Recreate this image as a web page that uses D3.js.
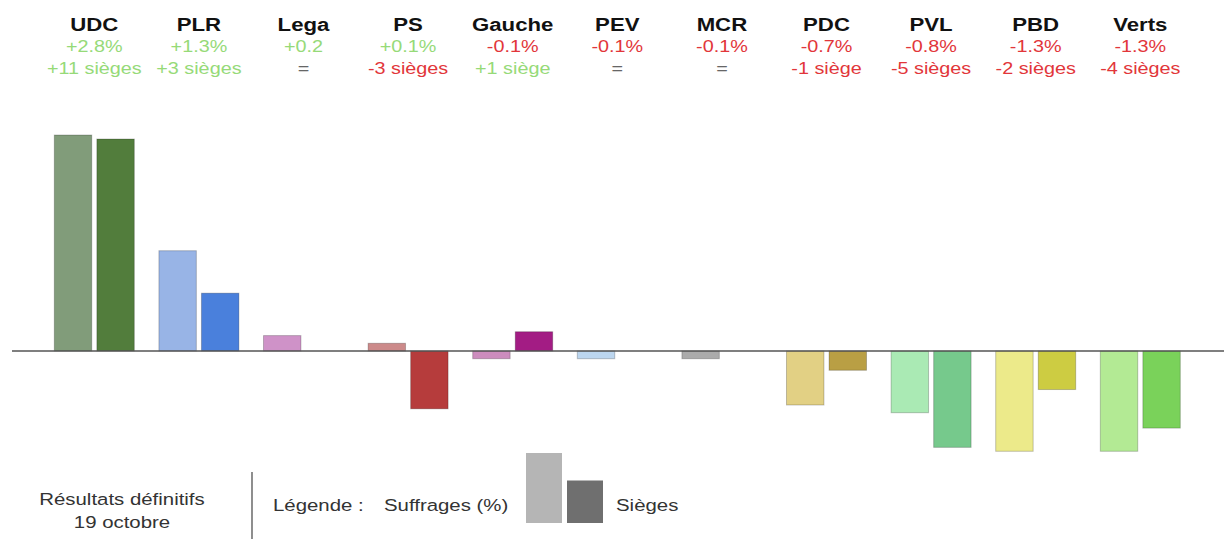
<!DOCTYPE html>
<html><head><meta charset="utf-8">
<script src="https://cdn.jsdelivr.net/npm/d3@7"></script>
<style>body{margin:0;background:#fff;}svg{display:block;font-family:"Liberation Sans",Arial,sans-serif;}</style>
</head><body><svg id="c" width="1224" height="539"></svg>
<script>
const parties = ["UDC","PLR","Lega","PS","Gauche","PEV","MCR","PDC","PVL","PBD","Verts"];
const voteChange = [2.8, 1.3, 0.2, 0.1, -0.1, -0.1, -0.1, -0.7, -0.8, -1.3, -1.3];
const seatChange = [11, 3, 0, -3, 1, 0, 0, -1, -5, -2, -4];
const voteLabels = ["+2.8%","+1.3%","+0.2","+0.1%","-0.1%","-0.1%","-0.1%","-0.7%","-0.8%","-1.3%","-1.3%"];
const seatLabels = ["+11 sièges","+3 sièges","=","-3 sièges","+1 siège","=","=","-1 siège","-5 sièges","-2 sièges","-4 sièges"];
const voteColors = ["#819c7a","#98b4e6","#cf92c8","#cc8a8a","#cc8cbd","#bcd6ef","#ababab","#e2d084","#aaeab4","#ecea8a","#b3ea94"];
const seatColors = ["#527d3c","#4a80dc","#b65fa8","#b63c3c","#a31c84","#7aa6d6","#777777","#b99f44","#76c98c","#cdcc42","#7ad25a"];
const legendLabels = ["Légende :","Suffrages (%)","Sièges"];
const noteLines = ["Résultats définitifs","19 octobre"];

const svg = d3.select("#c");
const SX = 1.2;
const green = "#96da78", red = "#e2363a", gray = "#666";

const x = d3.scaleBand().domain(parties).range([42, 42 + 11*104.6]).padding(0);
const sub = d3.scaleBand().domain(["v","s"]).range([-40, 40]).paddingInner(0.12);
const yV = d3.scaleLinear().domain([0, 2.8]).range([351, 135]);
const yS = d3.scaleLinear().domain([0, 11]).range([351, 139]);
const cx = p => x(p) + x.bandwidth()/2;

function stext(g, tx, ty, str, opts){
  return g.append("text").attr("transform", `translate(${tx},${ty}) scale(${SX},1)`)
    .attr("text-anchor", opts.anchor || "middle")
    .attr("font-size", opts.size).attr("fill", opts.fill)
    .attr("font-weight", opts.weight || "normal").text(str);
}

// bars
const gb = svg.append("g");
parties.forEach((p,i) => {
  const v = voteChange[i];
  gb.append("rect").attr("x", cx(p) + sub("v")).attr("width", sub.bandwidth())
    .attr("y", Math.min(yV(v), yV(0))).attr("height", Math.abs(yV(v) - yV(0)))
    .attr("fill", voteColors[i]).attr("stroke", "rgba(0,0,0,0.22)").attr("stroke-width", 1);
  const s = seatChange[i];
  if (s !== 0) {
    gb.append("rect").attr("x", cx(p) + sub("s")).attr("width", sub.bandwidth())
      .attr("y", Math.min(yS(s), yS(0))).attr("height", Math.abs(yS(s) - yS(0)))
      .attr("fill", seatColors[i]).attr("stroke", "rgba(0,0,0,0.22)").attr("stroke-width", 1);
  }
});
// zero line
svg.append("line").attr("x1", 12).attr("x2", 1224).attr("y1", yV(0)).attr("y2", yV(0))
  .attr("stroke", "#555").attr("stroke-width", 1.5);

// header
const gh = svg.append("g");
parties.forEach((p,i) => {
  const c = cx(p);
  stext(gh, c, 31, p, {size: 18.5, fill: "#111", weight: "bold"});
  stext(gh, c, 52, voteLabels[i], {size: 16.5, fill: voteChange[i] > 0 ? green : red});
  const s = seatChange[i];
  stext(gh, c, 74, seatLabels[i], {size: 16.5, fill: s > 0 ? green : (s < 0 ? red : gray)});
});

// bottom note
const gn = svg.append("g");
stext(gn, 122, 505, noteLines[0], {size: 17, fill: "#333"});
stext(gn, 122, 528, noteLines[1], {size: 17, fill: "#333"});
gn.append("line").attr("x1", 252).attr("x2", 252).attr("y1", 472).attr("y2", 539)
  .attr("stroke", "#444").attr("stroke-width", 1.2);

// legend
const gl = svg.append("g");
stext(gl, 273, 511, legendLabels[0], {size: 17, fill: "#333", anchor: "start"});
stext(gl, 384, 511, legendLabels[1], {size: 17, fill: "#333", anchor: "start"});
const ly = d3.scaleLinear().domain([0, 2.8]).range([523, 453]);
gl.append("rect").attr("x", 526).attr("width", 36).attr("y", ly(2.8)).attr("height", ly(0)-ly(2.8)).attr("fill", "#b5b5b5");
gl.append("rect").attr("x", 567).attr("width", 36).attr("y", ly(1.7)).attr("height", ly(0)-ly(1.7)).attr("fill", "#6f6f6f");
stext(gl, 616, 511, legendLabels[2], {size: 17, fill: "#333", anchor: "start"});
</script></body></html>
